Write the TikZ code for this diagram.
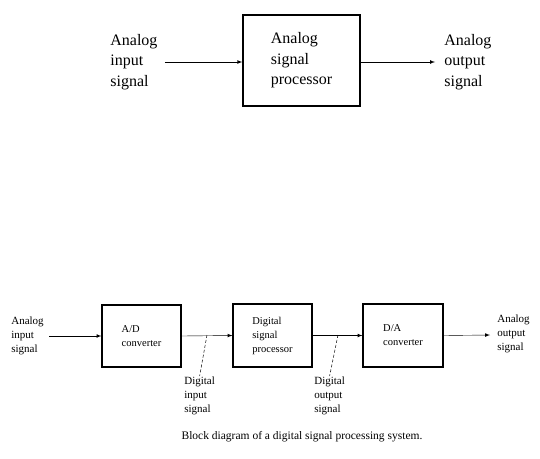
\documentclass[tikz,border=0pt]{standalone}
\usepackage{fontspec}
\setmainfont{Liberation Serif}
\usepackage{tikz}
\usetikzlibrary{arrows, calc}
\usetikzlibrary{positioning}

\begin{document}
\begin{tikzpicture}[x=1pt, y=-1pt]
\tikzset{
  bigbox/.style={draw, line width=1.4pt, align=left, minimum width=117pt, minimum height=91pt,
    font=\fontsize{16}{20.5}\selectfont},
  smallbox/.style={draw, line width=1.1pt, align=left, minimum width=79pt, minimum height=62pt,
    font=\fontsize{10.5}{14}\selectfont},
  biglabel/.style={align=left, anchor=west, inner sep=0pt, font=\fontsize{16}{20.5}\selectfont},
  smalllabel/.style={align=left, inner sep=1pt, font=\fontsize{11}{14}\selectfont},
  pointer/.style={densely dashed, line width=0.5pt},
}
\tikzset{>=latex, line width=0.7pt}
  \useasboundingbox (0, 0) rectangle (540, 458);

       \node [bigbox] (asp) at (301.5, 60.5) {Analog\\signal\\processor};
       \node [biglabel] (ain) at (110, 62) {Analog\\input\\signal};
       \node [biglabel] (aout) at (444, 62) {Analog\\output\\signal};

       \draw[->] (ain.east) ++(7, 0) coordinate (ainend) -- (asp.west |- ainend);
       \draw[->] (asp.east |- ainend) -- ($(aout.west |- ainend) + (-9, 0)$);

       \node [smallbox] (adc) at (141.5, 336) {A/D\\converter};
       \node [smallbox, minimum height=63pt] (dsp) at (272.5, 335.5) {Digital\\signal\\processor};
       \node [smallbox, minimum width=80pt, minimum height=63pt] (dac) at (403, 335.5) {D/A\\converter};

       \node [smalllabel, anchor=west] (din) at (10, 336) {Analog\\input\\signal};
       \node [smalllabel, anchor=west] (dout) at (496, 334) {Analog\\output\\signal};
       \node [smalllabel, anchor=north west] (dig1) at (183, 376) {Digital\\input\\signal};
       \node [smalllabel, anchor=north west] (dig2) at (313, 376) {Digital\\output\\signal};

       \draw[->] ($(din.east) + (4, 0)$) -- (adc.west);
       \draw[->] (adc.east) -- (dsp.west);
       \draw[->] (dsp.east) -- (dac.west);
       \draw[->] (dac.east) -- ($(dout.west) + (-6, 1)$);

       \coordinate (p1) at (207, 335);
       \coordinate (p2) at (338, 335);
       \draw[pointer] (p1) -- (dig1.north);
       \draw[pointer] (p2) -- (dig2.north);

       \node [font=\fontsize{11.5}{13}\selectfont] (cap) at (302, 437)
       {Block diagram of a digital signal processing system.};

\end{tikzpicture}
\end{document}
